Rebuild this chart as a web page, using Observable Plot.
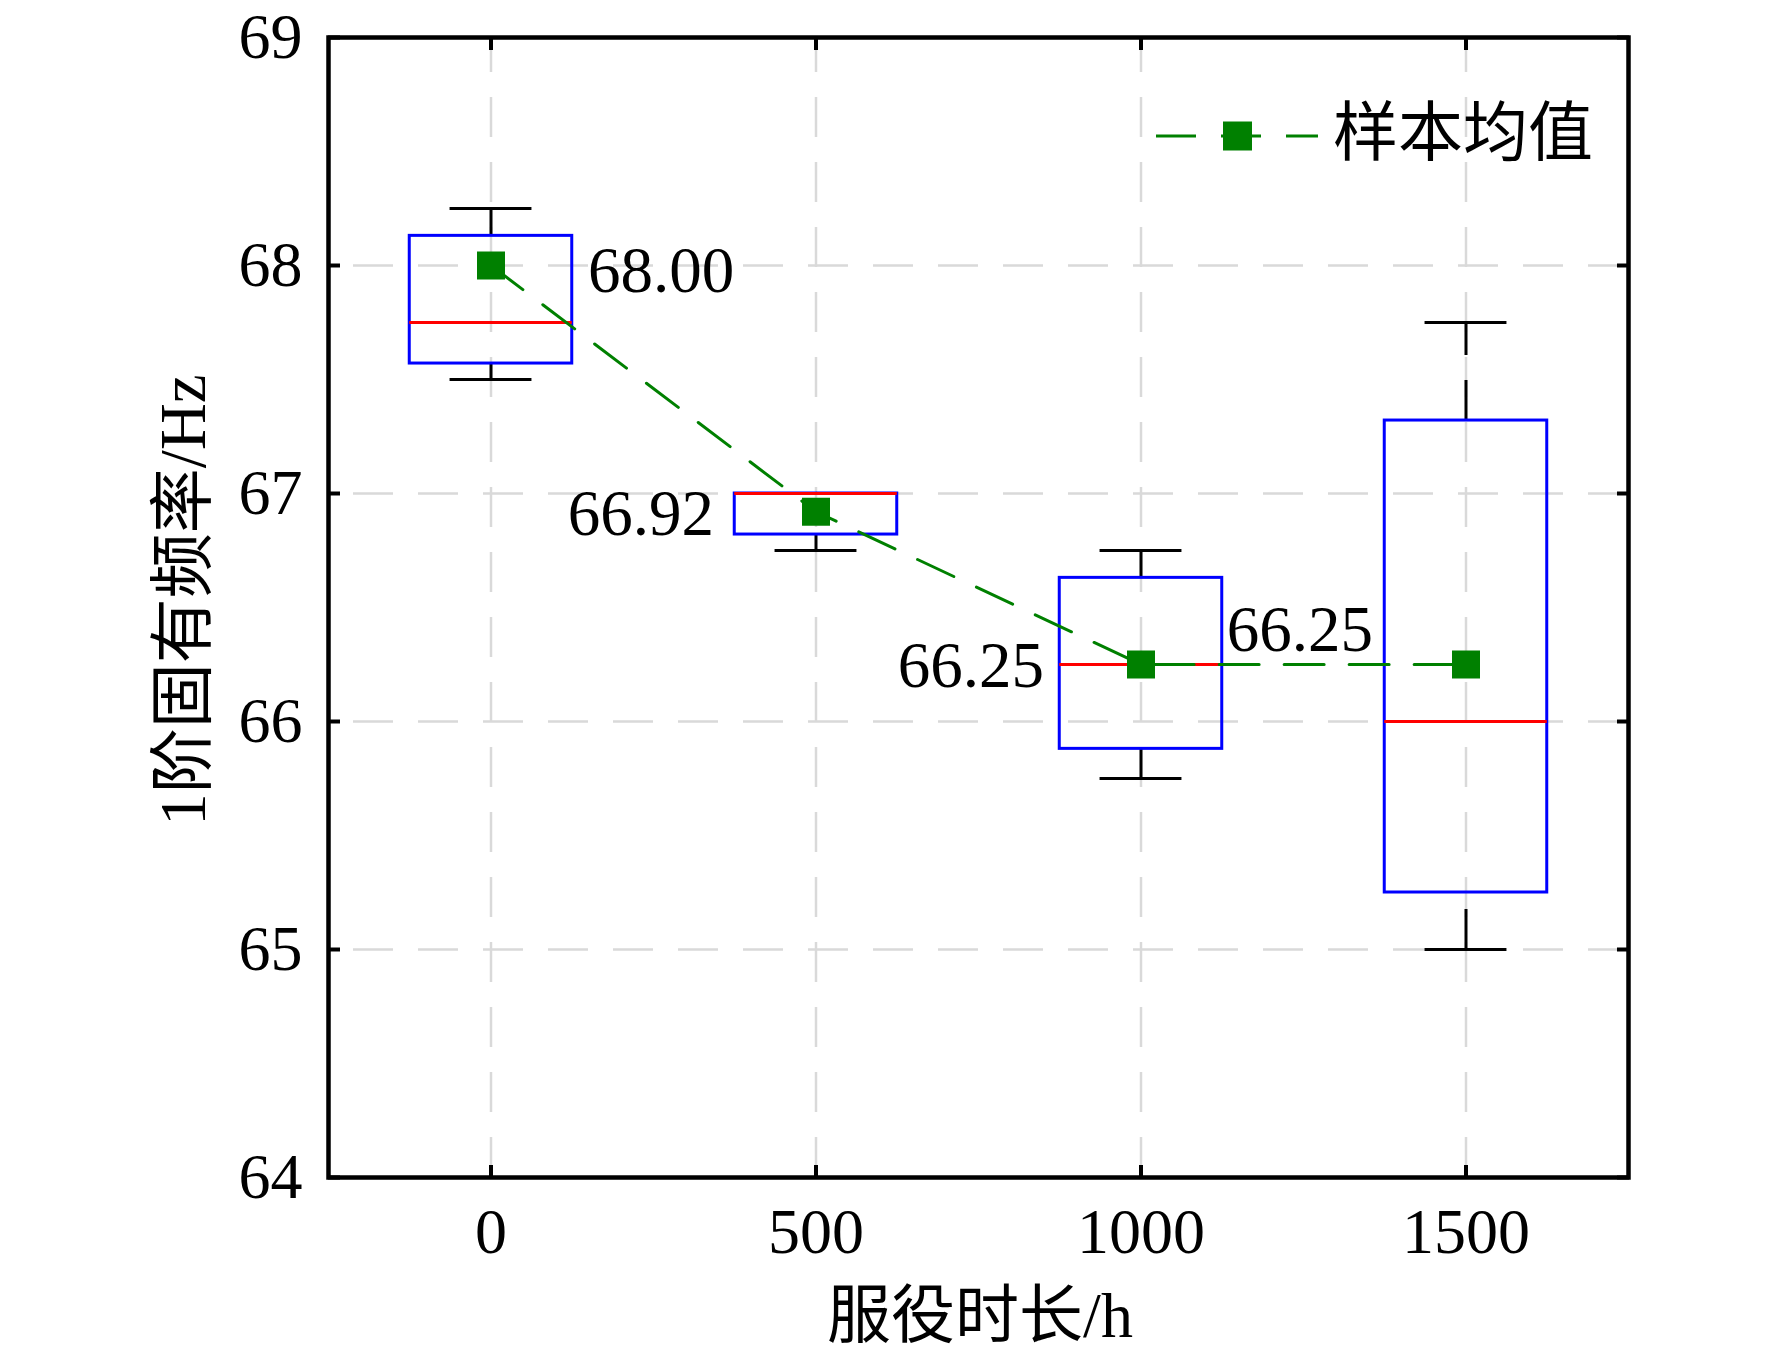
<!DOCTYPE html>
<html>
<head>
<meta charset="utf-8">
<script src="https://cdn.jsdelivr.net/npm/d3@7"></script>
<script src="https://cdn.jsdelivr.net/npm/@observablehq/plot@0.6"></script>
<style>
  html, body { margin: 0; padding: 0; background: #fff; }
</style>
</head>
<body>
<div id="chart"></div>
<script>
// ---- data ----
const hours       = [0, 500, 1000, 1500];
const whiskerLow  = [67.50, 66.75, 65.75, 65.00];
const q1          = [67.57, 66.82, 65.88, 65.25];
const median      = [67.75, 67.00, 66.25, 66.00];
const q3          = [68.13, 67.00, 66.63, 67.32];
const whiskerHigh = [68.25, 67.00, 66.75, 67.75];
const means       = [68.00, 66.92, 66.25, 66.25];
const meanLabels  = ["68.00", "66.92", "66.25", "66.25"];
const xTicks      = [0, 500, 1000, 1500];
const yTicks      = [64, 65, 66, 67, 68, 69];
const xTitle      = "服役时长/h";
const yTitle      = "1阶固有频率/Hz";
const legendLabel = "样本均值";

// ---- layout / style ----
const W = 1772, H = 1359;
const margin = {left: 328, right: 144, top: 37, bottom: 182};
const boxHalf = 125, capHalf = 63;            // in x units
const labelLayout = [                          // text offsets (px)
  {anchor: "start", dx: 97,  dy: 26},
  {anchor: "end",   dx: -102, dy: 23},
  {anchor: "end",   dx: -97, dy: 22},
  {anchor: "end",   dx: -93, dy: -14}
];
const fontLatin = "'Liberation Serif', 'Noto Sans CJK SC', serif";
const green = "#008000";
const dash = "40,25";
const plain = d => String(d);

const idx = hours.map((_, i) => i);
const X = i => hours[i];

const labelMarks = idx.map(i => Plot.text([i], {
  x: X, y: j => means[j], text: j => meanLabels[j],
  textAnchor: labelLayout[i].anchor, lineAnchor: "bottom",
  dx: labelLayout[i].dx, dy: labelLayout[i].dy,
  fontSize: 65, fill: "black"
}));

const plot = Plot.plot({
  width: W, height: H,
  marginLeft: margin.left, marginRight: margin.right,
  marginTop: margin.top, marginBottom: margin.bottom,
  style: {background: "white", fontFamily: fontLatin, fontSize: "64px", color: "black", overflow: "visible"},
  x: {domain: [-250, 1750]},
  y: {domain: [64, 69]},
  marks: [
    Plot.gridY(yTicks, {stroke: "#d9d9d9", strokeOpacity: 1, strokeWidth: 2.5, strokeDasharray: dash, strokeDashoffset: 40}),
    Plot.gridX(xTicks, {stroke: "#d9d9d9", strokeOpacity: 1, strokeWidth: 2.5, strokeDasharray: dash, strokeDashoffset: 5}),
    // whisker caps
    Plot.ruleY(idx, {x1: i => hours[i] - capHalf, x2: i => hours[i] + capHalf, y: i => whiskerHigh[i], stroke: "black", strokeWidth: 3}),
    Plot.ruleY(idx, {x1: i => hours[i] - capHalf, x2: i => hours[i] + capHalf, y: i => whiskerLow[i], stroke: "black", strokeWidth: 3}),
    // whiskers (dashed)
    Plot.ruleX(idx, {x: X, y1: i => q3[i], y2: i => whiskerHigh[i], stroke: "black", strokeWidth: 3, strokeDasharray: dash}),
    Plot.ruleX(idx, {x: X, y1: i => whiskerLow[i], y2: i => q1[i], stroke: "black", strokeWidth: 3, strokeDasharray: dash}),
    // boxes
    Plot.rect(idx, {x1: i => hours[i] - boxHalf, x2: i => hours[i] + boxHalf, y1: i => q1[i], y2: i => q3[i], fill: "none", stroke: "#0000ff", strokeWidth: 3}),
    // medians
    Plot.ruleY(idx, {x1: i => hours[i] - boxHalf, x2: i => hours[i] + boxHalf, y: i => median[i], stroke: "#ff0000", strokeWidth: 3}),
    // mean line and markers
    Plot.line(idx, {x: X, y: i => means[i], stroke: green, strokeWidth: 3, strokeDasharray: dash}),
    Plot.dot(idx, {x: X, y: i => means[i], symbol: "square", r: 15.8, fill: green, stroke: "none"}),
    ...labelMarks,
    Plot.frame({stroke: "black", strokeWidth: 4.5}),
    // inward ticks on all four sides
    Plot.axisY(yTicks, {anchor: "left", tickSize: -12, strokeWidth: 4, fill: "none", label: null}),
    Plot.axisY(yTicks, {anchor: "right", tickSize: -12, strokeWidth: 4, fill: "none", label: null}),
    Plot.axisX(xTicks, {anchor: "bottom", tickSize: -12, strokeWidth: 4, fill: "none", label: null}),
    Plot.axisX(xTicks, {anchor: "top", tickSize: -12, strokeWidth: 4, fill: "none", label: null}),
    // tick labels
    Plot.axisY(yTicks, {anchor: "left", tickSize: 0, tickPadding: 26, fontSize: 64, label: null, fill: "black", tickFormat: plain}),
    Plot.axisX(xTicks, {anchor: "bottom", tickSize: 0, tickPadding: 30, fontSize: 64, label: null, fill: "black", tickFormat: plain})
  ]
});

const svg = d3.select(plot);

// axis titles
svg.append("text")
  .attr("x", 980).attr("y", 1337)
  .attr("text-anchor", "middle")
  .attr("font-family", fontLatin).attr("font-size", 64)
  .attr("fill", "black")
  .text(xTitle);

svg.append("text")
  .attr("transform", "translate(205,600) rotate(-90)")
  .attr("text-anchor", "middle")
  .attr("font-family", fontLatin).attr("font-size", 65)
  .attr("fill", "black")
  .text(yTitle);

// legend
const lg = svg.append("g");
lg.append("line")
  .attr("x1", 1156).attr("x2", 1318).attr("y1", 136).attr("y2", 136)
  .attr("stroke", green).attr("stroke-width", 3).attr("stroke-dasharray", dash);
lg.append("rect")
  .attr("x", 1223).attr("y", 121.5).attr("width", 29).attr("height", 29)
  .attr("fill", green);
lg.append("text")
  .attr("x", 1333).attr("y", 133)
  .attr("text-anchor", "start")
  .attr("dominant-baseline", "central")
  .attr("font-family", fontLatin).attr("font-size", 65)
  .attr("fill", "black")
  .text(legendLabel);

document.getElementById("chart").appendChild(plot);
</script>
</body>
</html>
